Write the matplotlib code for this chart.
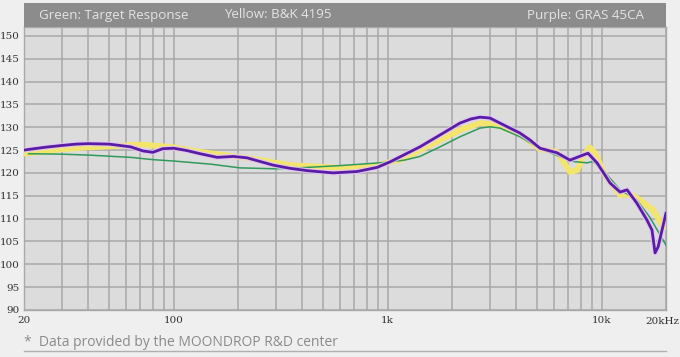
import matplotlib
matplotlib.use("Agg")
import matplotlib.pyplot as plt
from matplotlib.patches import Rectangle
from matplotlib.lines import Line2D

# ---- data ----
purple_f = [20, 25, 30, 35, 40, 50, 63, 72, 80, 89, 100, 115, 133, 160, 190, 220, 292, 350, 420, 556,
            720, 893, 1026, 1142, 1416, 1758, 2178, 2450, 2704, 3012, 3350, 4160, 4630, 5155, 6192,
            7118, 8186, 8640, 9525, 10950, 12200, 13160, 14600, 16290, 17200, 17780, 18370, 20000]
purple_db = [125.0, 125.6, 126.0, 126.3, 126.4, 126.3, 125.7, 124.8, 124.5, 125.3, 125.4, 124.9,
             124.2, 123.4, 123.6, 123.3, 121.7, 121.0, 120.5, 120.0, 120.3, 121.2, 122.4, 123.5,
             125.7, 128.3, 130.9, 131.8, 132.2, 132.0, 130.9, 128.7, 127.2, 125.4, 124.4, 122.8,
             123.9, 124.3, 122.2, 117.8, 115.8, 116.3, 113.4, 109.7, 107.5, 102.5, 103.8, 111.2]

yellow_f = [20, 30, 40, 50, 63, 72, 80, 90, 100, 133, 170, 220, 350, 600, 855, 1026, 1142, 1416, 1758,
            2178, 2704, 3012, 3350, 4160, 5155, 6192, 7118, 7700, 8186, 8800, 9300, 10500, 12200, 13800,
            15100, 17400, 19360, 20000]
yellow_db = [124.2, 125.2, 125.6, 125.8, 126.1, 126.2, 126.0, 125.8, 125.6, 124.6, 123.9, 123.3, 121.7,
             121.1, 121.3, 122.4, 122.8, 125.0, 127.2, 129.4, 130.9, 130.7, 130.2, 128.5, 125.2, 124.6,
             120.2, 120.6, 123.5, 125.6, 124.4, 119.1, 115.2, 115.2, 114.1, 111.9, 108.2, 108.0]

green_f = [21, 30, 40, 63, 80, 100, 150, 204, 300, 350, 600, 855, 1026, 1200, 1416, 1758, 2178, 2704,
           3012, 3350, 4160, 5155, 6192, 7346, 8553, 9120, 10160, 12200, 14600, 16800, 20000]
green_db = [124.2, 124.1, 123.9, 123.4, 122.9, 122.6, 121.9, 121.1, 120.9, 121.0, 121.6, 122.1, 122.4,
            122.8, 123.6, 125.7, 127.9, 129.8, 130.1, 129.8, 127.9, 125.3, 123.8, 122.5, 122.2, 122.5,
            120.6, 116.3, 114.1, 110.3, 104.2]

y_ticks = [90, 95, 100, 105, 110, 115, 120, 125, 130, 135, 140, 145, 150]
x_grid = [20, 30, 40, 50, 60, 70, 80, 90, 100, 200, 300, 400, 500, 600, 700, 800, 900,
          1000, 2000, 3000, 4000, 5000, 6000, 7000, 8000, 9000, 10000, 20000]
x_labels = {20: "20", 100: "100", 1000: "1k", 10000: "10k"}

header_left = "Green: Target Response"
header_mid = "Yellow: B&K 4195"
header_right = "Purple: GRAS 45CA"
footer = "*  Data provided by the MOONDROP R&D center"

W, H = 680, 357
fig = plt.figure(figsize=(W / 100, H / 100), dpi=100)
fig.patch.set_facecolor("#efefef")

L, R, T, B = 24, 666, 27, 310
ax = fig.add_axes([L / W, 1 - B / H, (R - L) / W, (B - T) / H])
ax.set_facecolor("#dcdcdc")
ax.set_xscale("log")
ax.set_xlim(20, 20000)
ax.set_ylim(90, 90 + (B - T) / 4.57)

for xv in x_grid:
    ax.axvline(xv, color="#a9a9a9", lw=1.1, zorder=1)
for yv in y_ticks:
    ax.axhline(yv, color="#a9a9a9", lw=1.1, zorder=1)
for s in ax.spines.values():
    s.set_color("#a9a9a9")
    s.set_linewidth(1.0)

ax.plot(yellow_f, yellow_db, color="#f3e56c", lw=4.2, solid_capstyle="round",
        solid_joinstyle="round", zorder=3)
ax.plot(green_f, green_db, color="#2f9a5c", lw=1.1, solid_joinstyle="round", zorder=4)
ax.plot(purple_f, purple_db, color="#e2c6f5", lw=3.8, alpha=0.8, solid_joinstyle="round", zorder=5)
ax.plot(purple_f, purple_db, color="#5a1ca6", lw=2.0, solid_joinstyle="round", zorder=6)

ax.set_xticks([])
ax.set_xticks([], minor=True)
ax.set_yticks(y_ticks)
ax.set_yticklabels([str(v) for v in y_ticks])
ax.tick_params(axis="y", length=0, pad=3, labelsize=7.5, labelcolor="#333333")
for lab in ax.get_yticklabels():
    lab.set_fontfamily("DejaVu Serif")

serif = "DejaVu Serif"
for xv, txt in x_labels.items():
    ax.text(xv, -0.038, txt, transform=ax.get_xaxis_transform(), ha="center", va="center",
            fontsize=7.5, family=serif, color="#333333")
fig.text(662 / W, 1 - 321 / H, "20kHz", ha="center", va="center", fontsize=7.5,
         family=serif, color="#333333")

# header bar
fig.patches.append(Rectangle((L / W, 1 - T / H), (R - L) / W, 24 / H, transform=fig.transFigure,
                             facecolor="#8c8c8c", edgecolor="none", zorder=0))
hy = 1 - 15 / H
fig.text(39 / W, hy, header_left, ha="left", va="center", fontsize=9.6, family="Open Sans", color="#e4e4e4")
fig.text(224 / W, hy, header_mid, ha="left", va="center", fontsize=9.6, family="Open Sans", color="#e4e4e4")
fig.text(644 / W, hy, header_right, ha="right", va="center", fontsize=9.6, family="Open Sans", color="#e4e4e4")

# footer
fig.text(24 / W, 1 - 343 / H, footer, ha="left", va="center", fontsize=10, family="Open Sans", color="#8a8a8a")
fig.lines.append(Line2D([L / W, R / W], [1 - 350.5 / H, 1 - 350.5 / H], transform=fig.transFigure,
                        color="#b0b0b0", lw=1.0))

fig.savefig("out.png", dpi=100, facecolor=fig.get_facecolor())
